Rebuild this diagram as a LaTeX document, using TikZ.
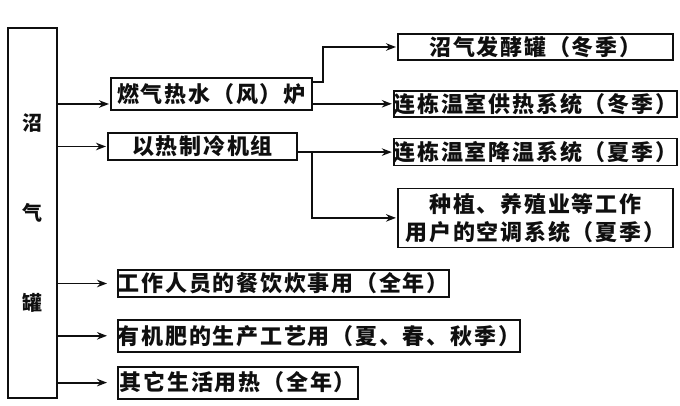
\documentclass[tikz,border=0pt]{standalone}
\usepackage{fontspec}
\usepackage{xcolor}
\usepackage{tikz}
\usetikzlibrary{arrows.meta,positioning}
\newfontfamily\cjk{Noto Sans CJK SC}[LetterSpace=8]
\definecolor{ink}{RGB}{15,15,15}
\tikzset{
  tank/.style  = {draw=ink, line width=1.8pt, text=ink, align=center,
                  minimum width=49pt, minimum height=370pt,
                  font=\cjk\bfseries\fontsize{20}{90}\selectfont},
  unit/.style  = {draw=ink, line width=1.8pt, fill=white, text=ink, align=center,
                  inner sep=0pt, font=\cjk\bfseries\fontsize{22}{28}\selectfont},
  feed/.style  = {-{Stealth[length=10pt,width=7.5pt]}, draw=ink, line width=1.8pt,
                  shorten >=1pt},
}
\begin{document}
\begin{tikzpicture}[x=1pt,y=1pt]
\useasboundingbox (0,0) rectangle (680,405);
\node[tank] (tank) at (32.5,192) {沼\\气\\罐};
% first stage
\node[unit, minimum width=201pt, minimum height=32pt, anchor=west] (burner) at (110,311) {燃气热水（风）炉};
\node[unit, minimum width=189pt, minimum height=27pt, anchor=west] (chiller) at (107,258.5) {以热制冷机组};
% right column
\node[unit, minimum width=275pt, minimum height=26pt, anchor=west] (digester) at (397,358) {沼气发酵罐（冬季）};
\node[unit, minimum width=275pt, minimum height=26pt, below=29pt of digester] (heating) {连栋温室供热系统（冬季）};
\node[unit, minimum width=275pt, minimum height=27pt, below=20pt of heating] (cooling) {连栋温室降温系统（夏季）};
\node[unit, minimum width=275pt, minimum height=59pt, below=21pt of cooling] (aircon) {种植、养殖业等工作\\用户的空调系统（夏季）};
% direct uses
\node[unit, minimum width=328pt, minimum height=27pt, anchor=west] (meals) at (117,121.5) {工作人员的餐饮炊事用（全年）};
\node[unit, minimum width=402pt, minimum height=32pt, below=21pt of meals.south west, anchor=north west] (fertilizer) {有机肥的生产工艺用（夏、春、秋季）};
\node[unit, minimum width=240pt, minimum height=32pt, below=13pt of fertilizer.south west, anchor=north west] (other) {其它生活用热（全年）};
% connectors
\coordinate (bin) at ([yshift=-10pt]burner.west);
\draw[feed] (tank.east |- bin) -- (bin);
\draw[feed] (tank.east |- chiller.west) -- (chiller.west);
\draw[feed] ([yshift=12pt]burner.east) -- ++(10pt,0) |- (digester.west);
\draw[feed] (burner.east |- heating.west) -- (heating.west);
\draw[feed] (chiller.east |- cooling.west) -- (cooling.west);
\draw[feed] (chiller.east |- cooling.west) -- ++(14pt,0) |- (aircon.west);
\draw[feed, shorten >=10pt] (tank.east |- meals.west) -- (meals.west);
\draw[feed, shorten >=10pt] (tank.east |- fertilizer.west) -- (fertilizer.west);
\draw[feed, shorten >=10pt] (tank.east |- other.west) -- (other.west);
\end{tikzpicture}
\end{document}
